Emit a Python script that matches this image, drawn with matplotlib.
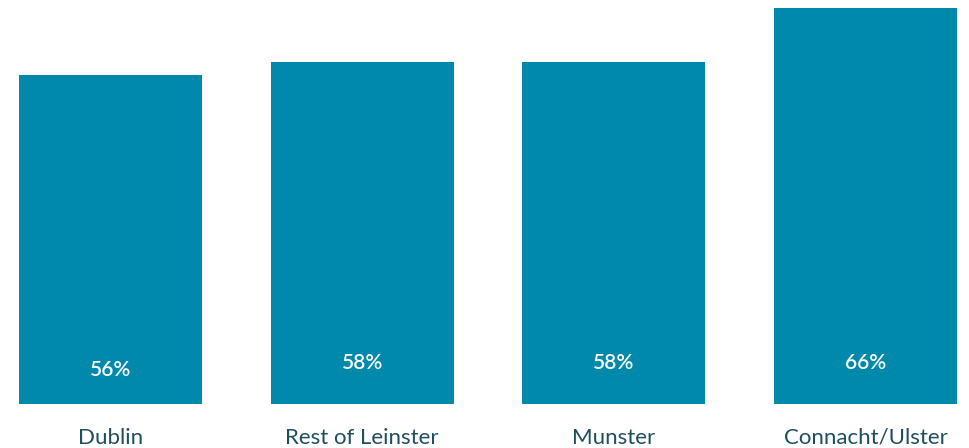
import matplotlib
matplotlib.use("Agg")
import matplotlib.pyplot as plt

regions = ["Dublin", "Rest of Leinster", "Munster", "Connacht/Ulster"]
shares = [56, 58, 58, 66]
share_labels = ["56%", "58%", "58%", "66%"]

BAR = "#0089ab"
TEXT = "#1f4e5f"

fig = plt.figure(figsize=(9.69, 4.48), dpi=100)
ax = fig.add_axes([0, 44 / 448, 1, 404 / 448])

x = range(len(regions))
ax.bar(x, shares, width=0.727, color=BAR)
ax.set_xlim(-0.4391, 3.4112)
ax.set_ylim(6.9, 67.2)

label_y = [12.0, 13.0, 13.0, 13.0]
for i, (lab, ly) in enumerate(zip(share_labels, label_y)):
    ax.text(i, ly, lab, ha="center", va="center", color="white",
            fontsize=15, fontweight="semibold", family="Lato")

ax.set_xticks(list(x))
ax.set_xticklabels(regions, fontsize=16, color=TEXT, family="Lato")
ax.tick_params(axis="x", length=0, pad=17)
ax.set_yticks([])
for s in ax.spines.values():
    s.set_visible(False)

fig.savefig("out.png", dpi=100)
